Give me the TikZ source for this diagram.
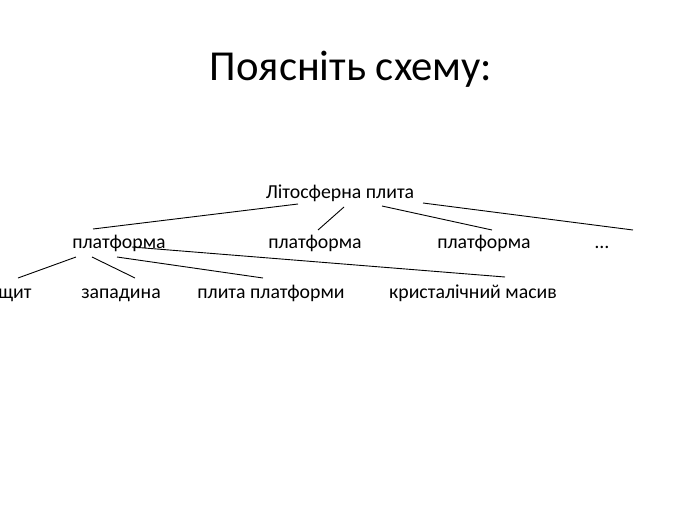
\documentclass[tikz,border=0pt]{standalone}
\usepackage{fontspec}
\setmainfont{Carlito}
\begin{document}
\begin{tikzpicture}[x=1pt,y=-1pt,
  lbl/.style={inner sep=0pt,anchor=base,font=\fontsize{19.8}{23}\selectfont},
  ttl/.style={inner sep=0pt,anchor=base,font=\fontsize{42.7}{50}\selectfont},
  conn/.style={draw=black,line width=0.9pt}]
\useasboundingbox[fill=white] (0,0) rectangle (700,525);
\node[ttl] (title) at (351,80) {Поясніть схему:};
\node[lbl] (root) at (340,198) {Літосферна плита};
\node[lbl] (p1) at (119,248) {платформа};
\node[lbl] (p2) at (315,248) {платформа};
\node[lbl] (p3) at (484,248) {платформа};
\node[lbl] (p4) at (602,248) {…};
\node[lbl] (c1) at (15,298) {щит};
\node[lbl] (c2) at (121,298) {западина};
\node[lbl] (c3) at (271,298) {плита платформи};
\node[lbl] (c4) at (473,298) {кристалічний масив};
% connector end points
\coordinate (r1) at (298,204);
\coordinate (r2) at (344,207);
\coordinate (r3) at (382,206);
\coordinate (r4) at (423,203);
\coordinate (t1) at (93,229);
\coordinate (t2) at (318,230);
\coordinate (t3) at (492,230);
\coordinate (t4) at (633,230);
\coordinate (s1) at (76,257);
\coordinate (s2) at (92,257);
\coordinate (s3) at (117,257);
\coordinate (s4) at (132,247);
\coordinate (e1) at (18,278);
\coordinate (e2) at (135,278);
\coordinate (e3) at (263,278);
\coordinate (e4) at (505,277);
\draw[conn] (r1) -- (t1);
\draw[conn] (r2) -- (t2);
\draw[conn] (r3) -- (t3);
\draw[conn] (r4) -- (t4);
\draw[conn] (s1) -- (e1);
\draw[conn] (s2) -- (e2);
\draw[conn] (s3) -- (e3);
\draw[conn] (s4) -- (e4);
\end{tikzpicture}
\end{document}
